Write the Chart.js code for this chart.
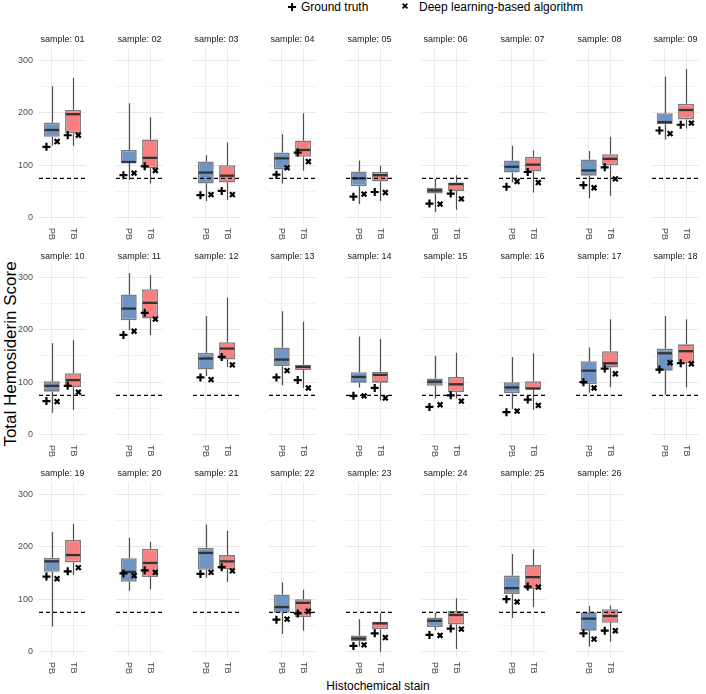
<!DOCTYPE html>
<html>
<head>
<meta charset="utf-8">
<script src="https://cdn.jsdelivr.net/npm/chart.js@4.4.1/dist/chart.umd.min.js"></script>
<style>
  html, body { margin: 0; padding: 0; background: #fff; }
  body { width: 706px; height: 694px; position: relative; overflow: hidden;
         font-family: "Liberation Sans", Arial, sans-serif; }
  canvas.panel { position: absolute; }
  .txt { position: absolute; white-space: nowrap; color: #000; }
  .mk { position: absolute; width: 8px; height: 8px; }
  .mk i { position: absolute; left: 0; top: 3px; width: 8px; height: 2.2px; background: #000; }
  .plus i:nth-child(2) { transform: rotate(90deg); }
  .times i:nth-child(1) { transform: rotate(45deg) scale(0.85); }
  .times i:nth-child(2) { transform: rotate(-45deg) scale(0.85); }
</style>
</head>
<body>
<div class="mk plus" style="left:288px;top:3px"><i></i><i></i></div>
<div class="txt" style="left:301px;top:0px;font-size:12px">Ground truth</div>
<div class="mk times" style="left:401px;top:2px"><i></i><i></i></div>
<div class="txt" style="left:419px;top:0px;font-size:12px">Deep learning-based algorithm</div>
<div class="txt" style="left:11px;top:354px;font-size:17px;transform:translate(-50%,-50%) rotate(-90deg)">Total Hemosiderin Score</div>
<div class="txt" style="left:378px;top:686px;font-size:12px;transform:translate(-50%,-50%)">Histochemical stain</div>

<script>
// facet labels and stains
const samples = ['01','02','03','04','05','06','07','08','09','10','11','12','13',
                 '14','15','16','17','18','19','20','21','22','23','24','25','26'];
const stains = ['PB', 'TB'];
const threshold = 75;

// PB boxplot stats (whisker low, q1, median, q3, whisker high)
const pbMin = [137, 72, 32, 65, 26, 11, 67, 37,149, 42,199,112, 94, 90, 69, 49, 80, 76, 48,116,141, 34, 10, 41, 64, 10];
const pbQ1  = [154,104, 65, 92, 60, 46, 86, 80,178, 82,218,124,131, 99, 93, 79, 96,122,152,133,156, 74, 20, 47,110, 40];
const pbMed = [167,106, 86,113, 75, 52, 97, 90,182, 93,240,145,143,110,101, 90,122,155,172,152,188, 85, 25, 59,121, 63];
const pbQ3  = [181,129,107,124, 88, 57,109,111,199,102,267,156,166,119,107,100,140,164,179,178,198,109, 31, 65,145, 75];
const pbMax = [250,218,119,159,109, 74,137,127,269,174,308,226,235,187,150,148,166,226,228,217,242,132, 62, 74,186, 87];

// TB boxplot stats
const tbMin = [137, 65, 34, 90, 32, 15, 48, 42,170, 47,190,129, 89, 65, 69, 47, 91, 90,146,119,133, 40,  0,  5, 85, 19];
const tbQ1  = [161, 94, 67,116, 69, 51, 88,100,187, 91,221,143,123, 99, 81, 86,128,136,170,142,157, 66, 43, 52,119, 55];
const tbMed = [197,114, 80,129, 81, 64,101,112,205,104,251,164,129,114, 96, 88,136,159,184,169,172, 93, 54, 70,142, 68];
const tbQ3  = [205,149,100,147, 87, 67,116,121,217,117,277,176,133,120,110,102,159,172,213,196,184,100, 57, 78,165, 81];
const tbMax = [266,191,143,199, 99, 81,128,154,283,180,304,261,215,182,156,155,220,220,243,209,230,118, 73,102,195, 88];

// single-value estimates per sample
const gtPB = [135, 81, 43, 82, 40, 27, 59, 62,166, 64,190,109,109, 74, 53, 43,100,124,143,149,148, 61, 11, 32,100, 35];
const dlPB = [145, 85, 44, 95, 45, 26, 69, 57,160, 63,197,105,122, 74, 57, 45, 89,137,139,145,151, 62, 13, 31, 95, 24];
const gtTB = [157, 98, 51,124, 49, 46, 87, 96,177, 93,232,148,104, 89, 75, 67,126,136,153,155,161, 73, 35, 44,124, 40];
const dlTB = [157, 90, 44,107, 48, 36, 67, 74,180, 81,220,133, 89, 70, 64, 56,116,135,160,151,154, 77, 27, 43,123, 40];

const FONT = '"Liberation Sans", Arial, sans-serif';
const BLUE = '#6e95c6';
const RED = '#f88080';
const EDGE = 'rgba(70,70,70,0.7)';
const DODGE = 0.25;
const AXIS_W = 22, TITLE_H = 14, BOTTOM_H = 22, PANEL_W = 52, PANEL_H = 175;

// whiskers behind the boxes, medians on top of them
const boxPlugin = (i) => ({
  id: 'boxes',
  beforeDatasetsDraw(chart) {
    const { ctx, scales: { x, y } } = chart;
    const lo = [pbMin[i], tbMin[i]], q1 = [pbQ1[i], tbQ1[i]];
    const q3 = [pbQ3[i], tbQ3[i]], hi = [pbMax[i], tbMax[i]];
    ctx.save();
    ctx.strokeStyle = 'rgba(50,50,50,0.85)';
    ctx.lineWidth = 1.2;
    for (let j = 0; j < 2; j++) {
      const px = Math.round(x.getPixelForValue(j + 1)) + 0.5;
      ctx.beginPath();
      ctx.moveTo(px, y.getPixelForValue(hi[j]));
      ctx.lineTo(px, y.getPixelForValue(q3[j]));
      ctx.moveTo(px, y.getPixelForValue(q1[j]));
      ctx.lineTo(px, y.getPixelForValue(lo[j]));
      ctx.stroke();
    }
    ctx.restore();
  },
  afterDatasetDraw(chart, args) {
    if (args.meta.type !== 'bar') return;
    const { ctx, scales: { y } } = chart;
    const med = [pbMed[i], tbMed[i]];
    ctx.save();
    ctx.strokeStyle = '#333';
    ctx.lineWidth = 2.3;
    args.meta.data.forEach((bar, j) => {
      const py = y.getPixelForValue(med[j]);
      ctx.beginPath();
      ctx.moveTo(bar.x - bar.width / 2 + 0.75, py);
      ctx.lineTo(bar.x + bar.width / 2 - 0.75, py);
      ctx.stroke();
    });
    ctx.restore();
  }
});

// stain labels under each panel, rotated clockwise
const stainLabels = {
  id: 'stainLabels',
  afterDraw(chart) {
    const { ctx, chartArea, scales: { x } } = chart;
    ctx.save();
    ctx.font = '9px ' + FONT;
    ctx.fillStyle = '#4d4d4d';
    ctx.textAlign = 'left';
    ctx.textBaseline = 'middle';
    stains.forEach((s, j) => {
      ctx.save();
      ctx.translate(x.getPixelForValue(j + 1), chartArea.bottom + 5);
      ctx.rotate(Math.PI / 2);
      ctx.fillText(s, 0, 0);
      ctx.restore();
    });
    ctx.restore();
  }
};

samples.forEach((name, i) => {
  const col = i % 9, row = Math.floor(i / 9);
  const panelLeft = Math.round(39.2 + col * 76.65);
  const panelTop = 48 + row * 217;

  const canvas = document.createElement('canvas');
  canvas.className = 'panel';
  canvas.width = AXIS_W + PANEL_W + 1;
  canvas.height = TITLE_H + PANEL_H + BOTTOM_H;
  canvas.style.left = (panelLeft - AXIS_W) + 'px';
  canvas.style.top = (panelTop - TITLE_H) + 'px';
  document.body.appendChild(canvas);

  new Chart(canvas, {
    type: 'bar',
    data: {
      datasets: [
        {
          type: 'scatter',
          data: [{ x: 1 - DODGE, y: gtPB[i] }, { x: 2 - DODGE, y: gtTB[i] }],
          pointStyle: 'cross', pointRadius: 4, borderColor: '#000', backgroundColor: '#000',
          borderWidth: 2.2, order: 0
        },
        {
          type: 'scatter',
          data: [{ x: 1 + DODGE, y: dlPB[i] }, { x: 2 + DODGE, y: dlTB[i] }],
          pointStyle: 'crossRot', pointRadius: 3.4, borderColor: '#000', backgroundColor: '#000',
          borderWidth: 2.2, order: 0
        },
        {
          type: 'line',
          data: [{ x: 0.4, y: threshold }, { x: 2.6, y: threshold }],
          borderColor: '#000', borderWidth: 1.2, borderDash: [4, 3],
          pointRadius: 0, order: 1
        },
        {
          type: 'bar',
          data: [{ x: 1, y: [pbQ1[i], pbQ3[i]] }, { x: 2, y: [tbQ1[i], tbQ3[i]] }],
          backgroundColor: [BLUE, RED], borderColor: EDGE, borderWidth: 1.6,
          borderSkipped: false, categoryPercentage: 0.75, barPercentage: 1, order: 2
        }
      ]
    },
    options: {
      responsive: false,
      animation: false,
      events: [],
      layout: { padding: { top: 0, bottom: BOTTOM_H, left: 0, right: 1 } },
      plugins: {
        legend: { display: false },
        tooltip: { enabled: false },
        title: {
          display: true, text: 'sample: ' + name, fullSize: false,
          color: '#1a1a1a', font: { size: 9, family: FONT, weight: 'normal' },
          padding: { top: 0, bottom: 3.2 }
        }
      },
      scales: {
        x: {
          type: 'linear', min: 0.4, max: 2.6, offset: false,
          afterBuildTicks: s => { s.ticks = [{ value: 1 }, { value: 2 }]; },
          ticks: { display: false },
          grid: { color: '#ebebeb', drawTicks: false, offset: false },
          border: { display: false }
        },
        y: {
          min: -10, max: 323,
          ticks: {
            display: col === 0, stepSize: 50, includeBounds: false,
            callback: v => (v % 100 === 0 ? v : ''),
            color: '#4d4d4d', font: { size: 9, family: FONT }, padding: 6
          },
          grid: {
            color: c => (c.tick && c.tick.value % 100 === 0 ? '#e8e8e8' : '#f2f2f2'),
            drawTicks: false
          },
          border: { display: false },
          afterFit: s => { s.width = AXIS_W; }
        }
      }
    },
    plugins: [boxPlugin(i), stainLabels]
  });
});
</script>
</body>
</html>
